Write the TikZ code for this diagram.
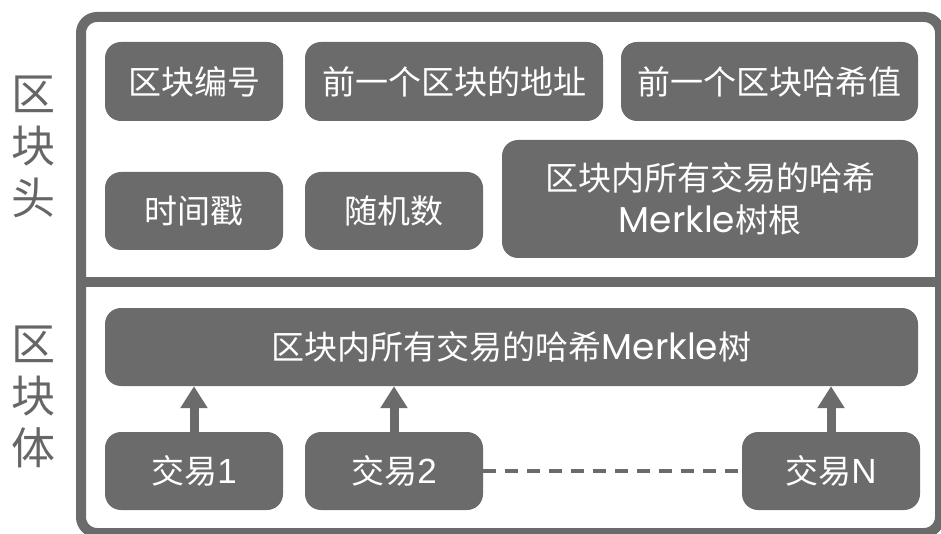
\documentclass[tikz,border=0pt]{standalone}
\usepackage{fontspec}
\setmainfont{Noto Sans CJK SC}
\newfontfamily\latinfont{Poppins}
\newfontfamily\digitfont{Liberation Sans}
\newcommand{\mk}{{\latinfont\fontsize{36}{42}\selectfont Merkle}}
\newcommand{\dg}[1]{{\digitfont\fontsize{35}{42}\selectfont #1}}
\usetikzlibrary{arrows.meta}
\definecolor{boxgray}{HTML}{6B6B6B}
\definecolor{framegray}{HTML}{6B6B6B}
\definecolor{labelgray}{HTML}{666666}
\begin{document}
\begin{tikzpicture}[x=1pt,y=-1pt,
  box/.style={fill=boxgray, rounded corners=16pt, text=white, inner sep=0pt,
    font=\fontsize{33}{42}\selectfont, align=center},
  sidelabel/.style={text=labelgray, font=\fontsize{44}{52}\selectfont, align=center, inner sep=0pt},
  uparrow/.style={draw=boxgray, line width=9pt, -{Triangle[width=26pt,length=22pt]}},
  dots/.style={draw=boxgray, line width=4pt, dash pattern=on 13pt off 9pt},
]
\useasboundingbox (0,0) rectangle (941,534);
% frame
\draw[framegray, line width=10pt, rounded corners=16pt] (81,17) rectangle (940,533);
\draw[framegray, line width=10pt] (81,282) -- (940,282);
% side labels
\node[sidelabel] (head) at (33,147) {区\\块\\头};
\node[sidelabel] (body) at (33,397) {区\\块\\体};
% header boxes
\node[box, minimum width=178pt, minimum height=79pt] (b1) at (194,81.5) {区块编号};
\node[box, minimum width=298pt, minimum height=79pt] (b2) at (454,81.5) {前一个区块的地址};
\node[box, minimum width=297pt, minimum height=79pt] (b3) at (769.5,81.5) {前一个区块哈希值};
\node[box, minimum width=178pt, minimum height=78pt] (b4) at (194,211) {时间戳};
\node[box, minimum width=178pt, minimum height=78pt] (b5) at (394,211) {随机数};
\node[box, minimum width=416pt, minimum height=118pt] (b6) at (710,199) {区块内所有交易的哈希\\\mk 树根};
% body
\node[box, minimum width=813pt, minimum height=78pt] (m) at (511.5,347) {区块内所有交易的哈希\mk 树};
\node[box, minimum width=178pt, minimum height=78pt] (t1) at (194,471) {交易\dg{1}};
\node[box, minimum width=178pt, minimum height=78pt] (t2) at (394,471) {交易\dg{2}};
\node[box, minimum width=178pt, minimum height=78pt] (tN) at (831,471) {交易\dg{N}};
\draw[uparrow] (t1.north) -- (t1.north |- m.south);
\draw[uparrow] (t2.north) -- (t2.north |- m.south);
\draw[uparrow] (tN.north) -- (tN.north |- m.south);
\draw[dots] (t2.east) -- (tN.west);
\end{tikzpicture}
\end{document}
